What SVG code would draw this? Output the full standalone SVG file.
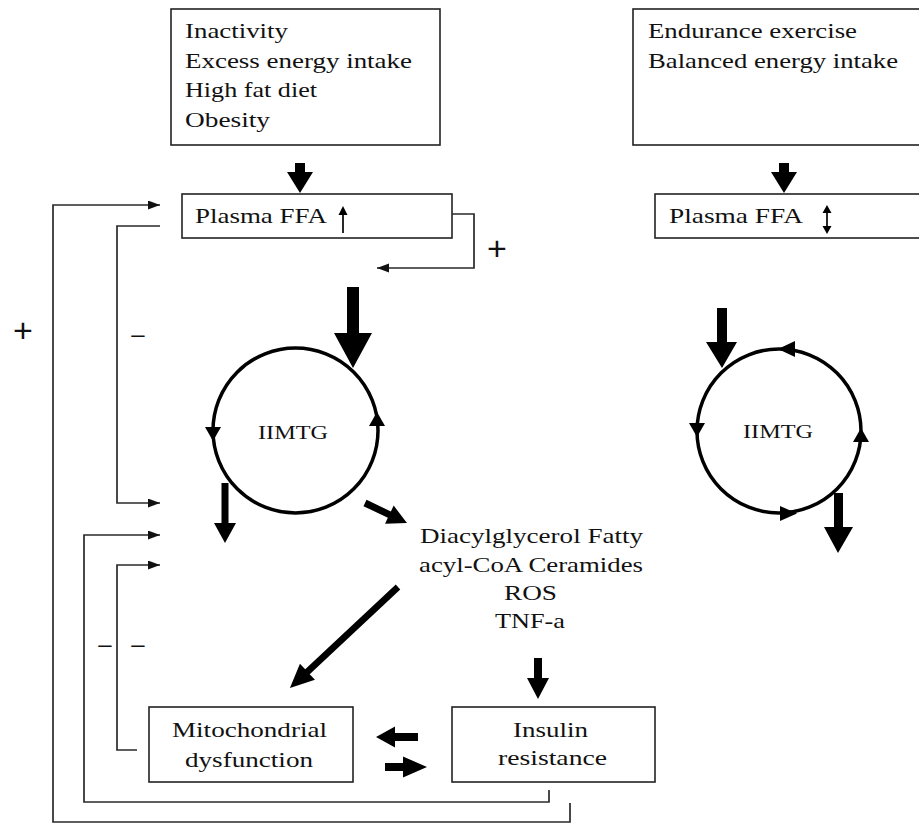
<svg xmlns="http://www.w3.org/2000/svg" width="919" height="823" viewBox="0 0 919 823">
<defs>
<style>
.box{fill:#fff;stroke:#222;stroke-width:1.6}
.t{font-family:"Liberation Serif","Times New Roman",serif;font-size:22px;fill:#111}
.c{font-family:"Liberation Serif","Times New Roman",serif;font-size:18px;fill:#111}
.s{font-family:"Liberation Sans",Arial,sans-serif;fill:#111}
.ln{fill:none;stroke:#2a2a2a;stroke-width:1.7}
.ring{fill:none;stroke:#000;stroke-width:3.5}
.blk{fill:#000}
</style>
<marker id="ah" markerUnits="userSpaceOnUse" markerWidth="13" markerHeight="10" refX="12" refY="4.5" orient="auto">
<path d="M0,0 L12,4.5 L0,9 z" fill="#111"/>
</marker>
</defs>
<rect width="919" height="823" fill="#fff"/>

<g id="node-causes">
<rect class="box" x="171" y="9" width="269" height="136"/>
<text class="t" x="185" y="38" textLength="103" lengthAdjust="spacingAndGlyphs">Inactivity</text>
<text class="t" x="185" y="68" textLength="227" lengthAdjust="spacingAndGlyphs">Excess energy intake</text>
<text class="t" x="185" y="97" textLength="132" lengthAdjust="spacingAndGlyphs">High fat diet</text>
<text class="t" x="185" y="127" textLength="85" lengthAdjust="spacingAndGlyphs">Obesity</text>
</g>

<g id="node-exercise">
<rect class="box" x="633" y="9" width="300" height="136"/>
<text class="t" x="648" y="38" textLength="209" lengthAdjust="spacingAndGlyphs">Endurance exercise</text>
<text class="t" x="648" y="68" textLength="250" lengthAdjust="spacingAndGlyphs">Balanced energy intake</text>
</g>

<g id="node-ffa-left">
<rect class="box" x="182" y="194" width="270" height="44"/>
<text class="t" x="195" y="223" textLength="132" lengthAdjust="spacingAndGlyphs">Plasma FFA</text>
<line x1="343" y1="233" x2="343" y2="212" stroke="#111" stroke-width="1.8"/>
<polygon class="blk" points="338.5,215 347.5,215 343,206"/>
</g>

<g id="node-ffa-right">
<rect class="box" x="655" y="194" width="280" height="44"/>
<text class="t" x="669" y="223" textLength="134" lengthAdjust="spacingAndGlyphs">Plasma FFA</text>
<line x1="827" y1="212" x2="827" y2="227" stroke="#111" stroke-width="1.8"/>
<polygon class="blk" points="822.5,213 831.5,213 827,205"/>
<polygon class="blk" points="822.5,226 831.5,226 827,234"/>
</g>

<g id="node-imtg-left">
<circle class="ring" cx="295.5" cy="430.5" r="82.5"/>
<polygon class="blk" points="205,427 221,427 213,441"/>
<polygon class="blk" points="369,426 385,426 377,412"/>
<text class="c" x="258" y="439" textLength="70" lengthAdjust="spacingAndGlyphs">IIMTG</text>
</g>

<g id="node-imtg-right">
<circle class="ring" cx="779" cy="431" r="82"/>
<polygon class="blk" points="778,349 795,341 795,357"/>
<polygon class="blk" points="689,423 705,423 697,437"/>
<polygon class="blk" points="853,442 869,442 861,428"/>
<polygon class="blk" points="780,506 780,521 797,513.5"/>
<text class="c" x="743" y="438" textLength="70" lengthAdjust="spacingAndGlyphs">IIMTG</text>
</g>

<g id="node-lipids">
<text class="t" x="420" y="543" textLength="223" lengthAdjust="spacingAndGlyphs">Diacylglycerol Fatty</text>
<text class="t" x="419" y="572" textLength="224" lengthAdjust="spacingAndGlyphs">acyl-CoA Ceramides</text>
<text class="t" x="504" y="600" textLength="53" lengthAdjust="spacingAndGlyphs">ROS</text>
<text class="t" x="495" y="628" textLength="70" lengthAdjust="spacingAndGlyphs">TNF-a</text>
</g>

<g id="node-mito">
<rect class="box" x="149" y="707" width="204" height="75"/>
<text class="t" x="172" y="737" textLength="155" lengthAdjust="spacingAndGlyphs">Mitochondrial</text>
<text class="t" x="185" y="767" textLength="128" lengthAdjust="spacingAndGlyphs">dysfunction</text>
</g>

<g id="node-insulin">
<rect class="box" x="452" y="707" width="203" height="75"/>
<text class="t" x="513" y="737" textLength="75" lengthAdjust="spacingAndGlyphs">Insulin</text>
<text class="t" x="498" y="765" textLength="109" lengthAdjust="spacingAndGlyphs">resistance</text>
</g>

<g id="connectors">
<path class="ln" d="M570,803 V822 H53 V205 H160" marker-end="url(#ah)"/>
<path class="ln" d="M549,790 V802 H84 V535 H160" marker-end="url(#ah)"/>
<path class="ln" d="M137,750 H117 V565 H160" marker-end="url(#ah)"/>
<path class="ln" d="M160,226 H117 V503 H160" marker-end="url(#ah)"/>
<path class="ln" d="M452,214 H474 V268 H377" marker-end="url(#ah)"/>

<polygon class="blk" points="295,163 305,163 305,172 313,172 300,193 287,172 295,172"/>
<polygon class="blk" points="779,163 789,163 789,172 797,172 784,193 771,172 779,172"/>
<polygon class="blk" points="347,287 359,287 359,333 372,333 353,368 334,333 347,333"/>
<polygon class="blk" points="221.5,483 228.5,483 228.5,523 236,523 225,543 214,523 221.5,523"/>
<polygon class="blk" points="0,-3.5 27,-3.5 27,-10 46.5,0 27,10 27,3.5 0,3.5" transform="translate(365,503) rotate(25.5)"/>
<polygon class="blk" points="0,-3.3 124,-3.3 124,-11 148,0 124,11 124,3.3 0,3.3" transform="translate(398,587) rotate(136.9)"/>
<polygon class="blk" points="534,658 542,658 542,678 549,678 538,699 527,678 534,678"/>
<polygon class="blk" points="418,733 418,741 395,741 395,747.5 376,737 395,726.5 395,733"/>
<polygon class="blk" points="385,763 403,763 403,756.5 427,767 403,777.5 403,771 385,771"/>
<polygon class="blk" points="717,308 727,308 727,342 737,342 722,368 706,342 717,342"/>
<polygon class="blk" points="834,493 843,493 843,527 853,527 838,553 824,527 834,527"/>

<text class="s" x="23" y="342" font-size="34" text-anchor="middle">+</text>
<text class="s" x="497" y="260" font-size="34" text-anchor="middle">+</text>
<text class="s" x="138" y="342" font-size="24" text-anchor="middle">–</text>
<text class="s" x="105" y="652" font-size="24" text-anchor="middle">–</text>
<text class="s" x="138" y="652" font-size="24" text-anchor="middle">–</text>
</g>
</svg>
